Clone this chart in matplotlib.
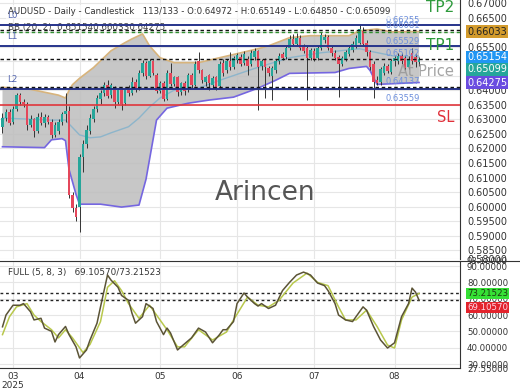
import matplotlib
matplotlib.use("Agg")
import matplotlib.pyplot as plt
from matplotlib.lines import Line2D
import numpy as np

# AUDUSD daily candles
opens  = [0.6275, 0.6305, 0.6326, 0.6290, 0.6335, 0.6384, 0.6362, 0.6352, 0.6281, 0.6300,
          0.6262, 0.6310, 0.6288, 0.6310, 0.6293, 0.6245, 0.6262, 0.6290, 0.6318, 0.6330,
          0.6040, 0.5995, 0.6000, 0.6172, 0.6215, 0.6262, 0.6300, 0.6335, 0.6370, 0.6390,
          0.6420, 0.6384, 0.6408, 0.6362, 0.6400, 0.6358, 0.6410, 0.6390, 0.6430, 0.6411,
          0.6459, 0.6496, 0.6450, 0.6500, 0.6455, 0.6398, 0.6425, 0.6372, 0.6462, 0.6422,
          0.6445, 0.6395, 0.6425, 0.6400, 0.6455, 0.6420, 0.6500, 0.6469, 0.6430, 0.6452,
          0.6418, 0.6445, 0.6415, 0.6495, 0.6470, 0.6500, 0.6482, 0.6505, 0.6515, 0.6495,
          0.6510, 0.6490, 0.6515, 0.6535, 0.6486, 0.6505, 0.6479, 0.6450, 0.6470, 0.6500,
          0.6525, 0.6515, 0.6548, 0.6578, 0.6562, 0.6580, 0.6550, 0.6545, 0.6513, 0.6537,
          0.6512, 0.6545, 0.6575, 0.6585, 0.6548, 0.6530, 0.6515, 0.6493, 0.6510, 0.6525,
          0.6540, 0.6550, 0.6565, 0.6606, 0.6565, 0.6531, 0.6490, 0.6435, 0.6430, 0.6462,
          0.6486, 0.6465, 0.6500, 0.6500, 0.6520, 0.6513, 0.6482, 0.6530, 0.6515, 0.64972]
highs  = [0.6322, 0.6335, 0.6335, 0.6345, 0.6391, 0.6390, 0.6372, 0.6360, 0.6315, 0.6305,
          0.6322, 0.6325, 0.6318, 0.6315, 0.6300, 0.6290, 0.6300, 0.6325, 0.6391, 0.6345,
          0.6049, 0.6010, 0.6180, 0.6230, 0.6280, 0.6320, 0.6345, 0.6385, 0.6400, 0.6430,
          0.6435, 0.6425, 0.6415, 0.6410, 0.6408, 0.6412, 0.6420, 0.6445, 0.6438, 0.6470,
          0.6505, 0.6500, 0.6510, 0.6505, 0.6460, 0.6432, 0.6432, 0.6470, 0.6496, 0.6450,
          0.6450, 0.6430, 0.6432, 0.6462, 0.6460, 0.6500, 0.6531, 0.6475, 0.6450, 0.6458,
          0.6450, 0.6450, 0.6500, 0.6510, 0.6510, 0.6531, 0.6520, 0.6530, 0.6525, 0.6535,
          0.6518, 0.6540, 0.6545, 0.6540, 0.6510, 0.6512, 0.6485, 0.6485, 0.6510, 0.6530,
          0.6532, 0.6555, 0.6590, 0.6595, 0.6598, 0.6590, 0.6560, 0.6552, 0.6548, 0.6545,
          0.6552, 0.6600, 0.6595, 0.6592, 0.6555, 0.6538, 0.6522, 0.6520, 0.6538, 0.6555,
          0.6570, 0.6590, 0.6630, 0.6620, 0.6575, 0.6540, 0.6500, 0.6450, 0.6482, 0.6495,
          0.6492, 0.6510, 0.6520, 0.6528, 0.6530, 0.6520, 0.6520, 0.6545, 0.6525, 0.65149]
lows   = [0.6254, 0.6295, 0.6280, 0.6283, 0.6330, 0.6350, 0.6342, 0.6264, 0.6274, 0.6240,
          0.6255, 0.6280, 0.6275, 0.6283, 0.6235, 0.6238, 0.6250, 0.6280, 0.6290, 0.6030,
          0.5980, 0.5950, 0.5913, 0.6120, 0.6200, 0.6250, 0.6290, 0.6325, 0.6355, 0.6380,
          0.6375, 0.6375, 0.6339, 0.6355, 0.6333, 0.6350, 0.6380, 0.6385, 0.6395, 0.6400,
          0.6450, 0.6440, 0.6445, 0.6455, 0.6390, 0.6390, 0.6365, 0.6368, 0.6415, 0.6415,
          0.6380, 0.6385, 0.6385, 0.6395, 0.6410, 0.6415, 0.6460, 0.6425, 0.6415, 0.6401,
          0.6410, 0.6400, 0.6408, 0.6450, 0.6460, 0.6470, 0.6475, 0.6495, 0.6485, 0.6488,
          0.6452, 0.6485, 0.6505, 0.6333, 0.6470, 0.6374, 0.6450, 0.6367, 0.6462, 0.6490,
          0.6505, 0.6508, 0.6540, 0.6555, 0.6555, 0.6540, 0.6528, 0.6367, 0.6505, 0.6500,
          0.6505, 0.6538, 0.6565, 0.6540, 0.6520, 0.6505, 0.6377, 0.6485, 0.6503, 0.6518,
          0.6532, 0.6545, 0.6560, 0.6555, 0.6520, 0.6470, 0.6374, 0.6418, 0.6420, 0.6455,
          0.6460, 0.6458, 0.6485, 0.6490, 0.6490, 0.6470, 0.6475, 0.6490, 0.6480, 0.64850]
closes = [0.6305, 0.6326, 0.6288, 0.6335, 0.6384, 0.6362, 0.6352, 0.6281, 0.6300, 0.6262,
          0.6310, 0.6288, 0.6310, 0.6293, 0.6245, 0.6280, 0.6290, 0.6318, 0.6330, 0.6040,
          0.5995, 0.5965, 0.6172, 0.6215, 0.6265, 0.6305, 0.6335, 0.6375, 0.6390, 0.6420,
          0.6380, 0.6418, 0.6360, 0.6400, 0.6355, 0.6405, 0.6390, 0.6430, 0.6405, 0.6459,
          0.6496, 0.6450, 0.6500, 0.6462, 0.6398, 0.6425, 0.6372, 0.6462, 0.6422, 0.6445,
          0.6395, 0.6425, 0.6398, 0.6455, 0.6420, 0.6493, 0.6469, 0.6435, 0.6445, 0.6425,
          0.6442, 0.6411, 0.6493, 0.6460, 0.6503, 0.6480, 0.6513, 0.6522, 0.6493, 0.6527,
          0.6486, 0.6530, 0.6535, 0.6482, 0.6503, 0.6480, 0.6459, 0.6478, 0.6503, 0.6520,
          0.6512, 0.6548, 0.6578, 0.6562, 0.6580, 0.6548, 0.6537, 0.6513, 0.6540, 0.6510,
          0.6545, 0.6590, 0.6585, 0.6545, 0.6528, 0.6512, 0.6493, 0.6513, 0.6531, 0.6548,
          0.6562, 0.6582, 0.6612, 0.6562, 0.6531, 0.6480, 0.6428, 0.6425, 0.6475, 0.6486,
          0.6468, 0.6503, 0.6512, 0.6520, 0.6500, 0.6479, 0.6508, 0.6500, 0.6497, 0.65099]

# Bollinger bands (20, 2), read at turning points
bb_up_i = [0, 8, 16, 18, 19, 20, 22, 26, 31, 35, 37, 40, 42, 45, 49, 56, 67, 73, 76, 82, 88, 99, 102, 107, 111, 119]
bb_up   = [0.6411, 0.6404, 0.6384, 0.6374, 0.6400, 0.6420, 0.6442, 0.6479, 0.6537, 0.6565, 0.6578, 0.6595, 0.6554,
           0.6513, 0.6496, 0.6496, 0.6527, 0.6544, 0.6554, 0.6582, 0.6589, 0.6589, 0.6606, 0.6612, 0.6602, 0.66033]
bb_lo_i = [0, 12, 14, 17, 18, 19, 21, 22, 28, 34, 39, 41, 44, 47, 53, 59, 66, 73, 78, 82, 95, 99, 104, 105, 107, 119]
bb_lo   = [0.6206, 0.6203, 0.6230, 0.6234, 0.6227, 0.6128, 0.6042, 0.6008, 0.6008, 0.5998, 0.6005, 0.6094, 0.6298,
           0.6339, 0.6356, 0.6367, 0.6377, 0.6408, 0.6435, 0.6459, 0.6462, 0.6476, 0.6483, 0.6469, 0.6421, 0.64275]
bb_mid_i = [0, 14, 18, 19, 22, 25, 28, 31, 36, 39, 42, 45, 49, 56, 62, 72, 82, 91, 102, 106, 113, 119]
bb_mid   = [0.6305, 0.6298, 0.6298, 0.6285, 0.6247, 0.6237, 0.6240, 0.6254, 0.6275, 0.6305, 0.6343,
            0.6374, 0.6401, 0.6408, 0.6435, 0.6476, 0.6513, 0.6530, 0.6544, 0.6533, 0.6516, 0.65154]

# Stochastic FULL (5, 8, 3)
k_i = [0, 1, 3, 5, 6, 8, 9, 11, 12, 14, 15, 16, 18, 19, 21, 22, 24, 25, 27, 28,
       30, 31, 33, 34, 36, 37, 38, 40, 41, 43, 44, 46, 47, 48, 50, 51, 54, 56, 58, 60,
       62, 63, 64, 66, 67, 69, 70, 72, 73, 74, 76, 78, 80, 82, 84, 86, 88, 90, 92, 93,
       95, 96, 98, 100, 101, 103, 104, 106, 108, 110, 112, 114, 116, 117, 118, 119]
k_v = [52.8, 60, 66, 66, 67, 62, 57, 58, 52, 50, 43.5, 48, 53, 48, 40.5, 33.7, 38.6, 44.7, 55, 65,
       84.5, 81.4, 77, 72, 69, 61, 55, 59, 67, 64, 56, 48, 52, 49, 38.6, 40.5, 46, 52, 49.6, 43,
       48, 51, 51, 56, 67, 73.5, 71, 67, 65.5, 67, 64, 66, 75, 80, 84.5, 86.3, 84.5, 79.6, 78, 75,
       67, 60, 57, 56, 59, 65, 63, 53, 44.7, 39.8, 43, 59, 67, 76.5, 74, 69.10570]
d_i = [0, 2, 4, 7, 9, 11, 14, 16, 18, 20, 23, 25, 28, 30, 32, 34, 36, 39, 42, 44, 47, 50, 52,
       56, 60, 64, 66, 70, 73, 76, 79, 83, 87, 90, 93, 96, 98, 101, 104, 107, 110, 112, 114, 117, 119]
d_v = [48, 59, 65, 67, 60, 56, 51, 46, 51, 46, 37, 42, 56, 77, 81, 75, 67, 58, 66, 60, 51, 40.5, 40.5,
       51, 44.7, 49.6, 57, 71, 66, 65, 69, 79.6, 85.7, 80, 78, 65, 57, 57, 63, 53, 41.6, 39.8, 57, 71, 73.21523]

month_pos = [3, 22, 45, 67, 89, 112]
month_lbl = ["03\n2025", "04", "05", "06", "07", "08"]

fig = plt.figure(figsize=(5.2, 3.9), dpi=100)
ax = fig.add_axes([0, 1 - 259 / 390, 460 / 520, 259 / 390])
ax2 = fig.add_axes([0, 1 - 368 / 390, 460 / 520, 107 / 390])

x = np.arange(len(closes))
up_col, dn_col = "#26a69a", "#e4475b"
cols = [up_col if c >= o else dn_col for o, c in zip(opens, closes)]
body = [max(abs(c - o), 0.00015) for o, c in zip(opens, closes)]
bottom = [min(o, c) for o, c in zip(opens, closes)]

# bands
ax.fill(bb_up_i + bb_lo_i[::-1], bb_up + bb_lo[::-1], color="#bdbdbd", alpha=0.85, lw=0, zorder=1)
ax.plot(bb_up_i, bb_up, color="#d8b47c", lw=1.2, zorder=2)
ax.plot(bb_lo_i, bb_lo, color="#7566e0", lw=1.2, zorder=2)
ax.plot(bb_mid_i, bb_mid, color="#8db5cb", lw=1.0, zorder=2)

ax.vlines(x, lows, highs, color="#333333", lw=0.7, zorder=3)
ax.bar(x, body, bottom=bottom, width=0.78, color=cols, lw=0, zorder=4)

# levels
for lv in [0.66255, 0.65529, 0.6405]:
    ax.axhline(lv, color="#27348b", lw=1.4, zorder=5)
for lv in [0.66081, 0.65102, 0.64137]:
    ax.axhline(lv, color="#111111", lw=1.0, ls=(0, (2.5, 2)), zorder=5)
ax.axhline(0.66033, color="#2f8f2f", lw=1.0, ls=(0, (2.5, 2)), zorder=5)
ax.axhline(0.6350, color="#e0363c", lw=1.2, zorder=5)

for name, lv in [("L0", 0.66255), ("L1", 0.65529), ("L2", 0.6405)]:
    ax.annotate(name, xy=(0.015, lv), xycoords=("axes fraction", "data"), xytext=(0, 7),
                textcoords="offset points", va="center", fontsize=6.3, color="#5466b0", zorder=8)
for lv, txt in [(0.66255, "0.66255"), (0.66081, "0.66081"), (0.65529, "0.65529"),
                (0.65102, "0.65102"), (0.64137, "0.64137"), (0.63559, "0.63559")]:
    ax.annotate(txt, xy=(385 / 460, lv), xycoords=("axes fraction", "data"), xytext=(0, 3.6),
                textcoords="offset points", va="center", fontsize=6, color="#6d8fdc", zorder=6)

ax.text(0.017, 1 - 12 / 259, "AUDUSD - Daily - Candlestick   113/133 - O:0.64972 - H:0.65149 - L:0.64850 - C:0.65099",
        transform=ax.transAxes, fontsize=6.2, color="#333333", va="center", zorder=7,
        bbox=dict(fc="white", ec="none", alpha=0.7, pad=1.5))
ax.text(0.017, 1 - 27.5 / 259, "BB (20, 2)  0.651540.660330.64275", transform=ax.transAxes,
        fontsize=6.3, color="#444444", va="center", zorder=4)

ax.text(0.987, 1 - 7 / 259, "TP2", transform=ax.transAxes, ha="right", va="center", fontsize=11, color="#2e9a3c", zorder=7)
ax.text(0.987, 1 - 46 / 259, "TP1", transform=ax.transAxes, ha="right", va="center", fontsize=11, color="#2e9a3c", zorder=7)
ax.text(0.987, 1 - 72 / 259, "At Price", transform=ax.transAxes, ha="right", va="center", fontsize=10.5,
        color="#9a9a9a", alpha=0.9, zorder=7)
ax.text(0.987, 1 - 117 / 259, "SL", transform=ax.transAxes, ha="right", va="center", fontsize=10.5, color="#e0303a", zorder=7)
ax.text(265 / 460, 1 - 193 / 259, "Arincen", transform=ax.transAxes, ha="center", va="center", fontsize=19,
        color="#555555", zorder=7)

# right value boxes
for val, txt, fc, tc, dy in [(0.66033, "0.66033", "#d39b2c", "#222222", 0),
                             (0.65154, "0.65154", "#2196f3", "white", 0),
                             (0.65099, "0.65099", "#26a69a", "white", -7.8),
                             (0.64275, "0.64275", "#6a4ce0", "white", 0)]:
    ax.annotate(txt, xy=(1, val), xycoords=("axes fraction", "data"), xytext=(5, dy),
                textcoords="offset points", fontsize=7, color=tc, va="center", ha="left",
                bbox=dict(boxstyle="square,pad=0.12", fc=fc, ec="none"), annotation_clip=False, zorder=10)

ylo, yhi = 0.5819, 0.6712
ax.set_ylim(ylo, yhi)
ax.set_xlim(-0.714, 130.7)
yt = [ylo] + list(np.arange(0.585, 0.6701, 0.005))
ax.set_yticks(yt)
ax.set_yticklabels(["0.58000"] + [f"{v:.5f}" for v in yt[1:]])
ax.yaxis.tick_right()
ax.tick_params(axis="y", length=0, pad=5.5, labelsize=7, labelcolor="#333333")
ax.set_xticks(month_pos)
ax.tick_params(axis="x", length=0, labelbottom=False)
ax.grid(True, color="#e6e6e6", lw=0.8)
ax.set_axisbelow(True)
for s in ["left", "top", "bottom"]:
    ax.spines[s].set_visible(False)
ax.spines["right"].set_color("#333333")

# stochastic panel
ax2.plot(d_i, d_v, color="#b8c84c", lw=1.1, zorder=3)
ax2.plot(k_i, k_v, color="#5b5436", lw=1.1, zorder=4)
ax2.axhline(73.21523, color="#222222", lw=1.0, ls=(0, (2, 2)), zorder=2)
ax2.axhline(69.10570, color="#222222", lw=1.0, ls=(0, (2, 2)), zorder=2)
ax2.text(0.017, 1 - 12 / 107, "FULL (5, 8, 3)   69.10570/73.21523", transform=ax2.transAxes,
         fontsize=6.3, color="#333333", va="center")
for val, txt, fc, tc, dy in [(73.21523, "73.21523", "#35e035", "#1c3a10", 0),
                             (69.10570, "69.10570", "#e3232c", "#ffd6e6", -5)]:
    ax2.annotate(txt, xy=(1, val), xycoords=("axes fraction", "data"), xytext=(5, dy),
                 textcoords="offset points", fontsize=6.2, color=tc, va="center", ha="left",
                 bbox=dict(boxstyle="square,pad=0.12", fc=fc, ec="none"), annotation_clip=False, zorder=10)

slo, shi = 27.55, 93.1
ax2.set_ylim(slo, shi)
ax2.set_xlim(-0.714, 130.7)
st = [slo, 30, 40, 50, 60, 70, 80, 90, shi]
ax2.set_yticks(st)
ax2.set_yticklabels([f"{v:.5f}" for v in st])
ax2.yaxis.tick_right()
ax2.tick_params(axis="y", length=0, pad=5, labelsize=6.2, labelcolor="#333333")
ax2.set_xticks(month_pos)
ax2.set_xticklabels(month_lbl)
ax2.tick_params(axis="x", length=0, pad=3, labelsize=6.5, labelcolor="#333333")
for t in ax2.get_xticklabels():
    t.set_linespacing(0.95)
ax2.grid(True, color="#e6e6e6", lw=0.8)
ax2.set_axisbelow(True)
ax2.spines["left"].set_visible(False)
for s in ["top", "right", "bottom"]:
    ax2.spines[s].set_color("#333333")

fig.add_artist(Line2D([460 / 520, 1], [1 - 261 / 390] * 2, color="#333333", lw=0.8, transform=fig.transFigure))

fig.savefig("out.png", dpi=100, facecolor="white")
